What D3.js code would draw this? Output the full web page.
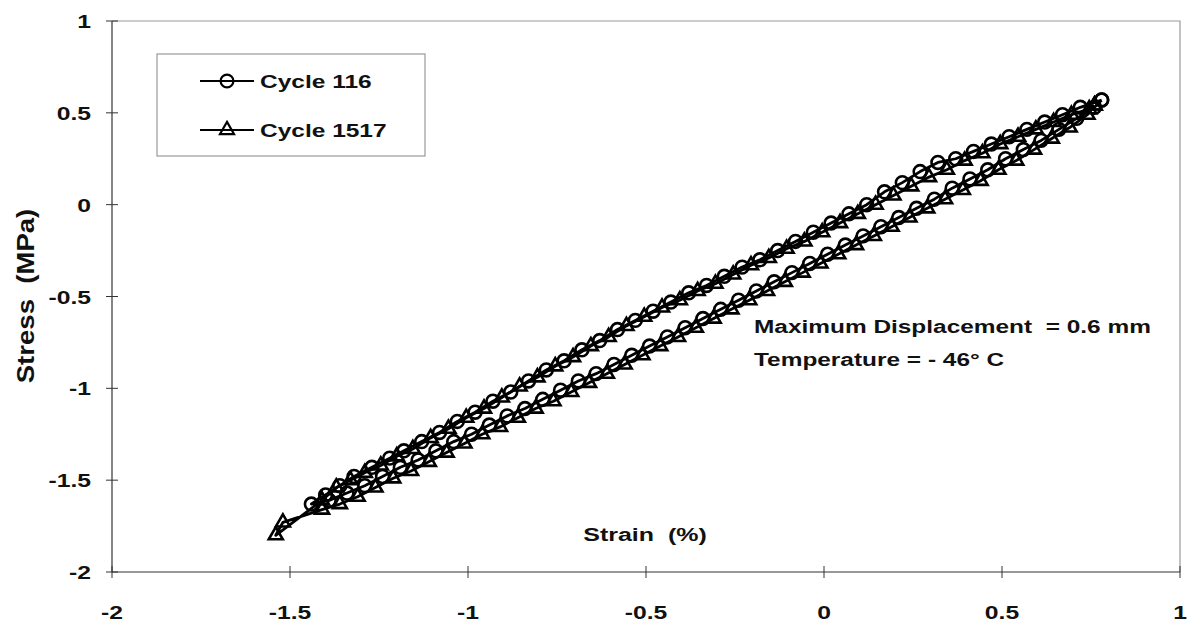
<!DOCTYPE html>
<html>
<head>
<meta charset="utf-8">
<script src="https://cdn.jsdelivr.net/npm/d3@7"></script>
<style>
  body { margin: 0; background: #fff; }
  text { font-family: "Liberation Sans", Arial, sans-serif; font-weight: bold; fill: #111; }
</style>
</head>
<body>
<svg id="chart" width="1192" height="623"></svg>
<script>
// ── Data (strain %, stress MPa) ──────────────────────────────────────────
const xTicks = [-2, -1.5, -1, -0.5, 0, 0.5, 1];
const yTicks = [1, 0.5, 0, -0.5, -1, -1.5, -2];

// Cycle 116: lower branch top -> bottom, then upper branch bottom -> top
const cycle116 = [
  [0.78, 0.57], [0.76, 0.53], [0.71, 0.47], [0.66, 0.41], [0.61, 0.35], [0.56, 0.30],
  [0.51, 0.25], [0.46, 0.19], [0.41, 0.14], [0.36, 0.09], [0.31, 0.03], [0.26, -0.02],
  [0.21, -0.07], [0.16, -0.12], [0.11, -0.17], [0.06, -0.22], [0.01, -0.27], [-0.04, -0.32],
  [-0.09, -0.37], [-0.14, -0.42], [-0.19, -0.47], [-0.24, -0.52], [-0.29, -0.57], [-0.34, -0.62],
  [-0.39, -0.67], [-0.44, -0.72], [-0.49, -0.77], [-0.54, -0.82], [-0.59, -0.87], [-0.64, -0.92],
  [-0.69, -0.96], [-0.74, -1.01], [-0.79, -1.06], [-0.84, -1.11], [-0.89, -1.15], [-0.94, -1.20],
  [-0.99, -1.25], [-1.04, -1.29], [-1.09, -1.34], [-1.14, -1.39], [-1.19, -1.43], [-1.24, -1.48],
  [-1.29, -1.53], [-1.34, -1.57], [-1.39, -1.61],
  [-1.44, -1.63], [-1.40, -1.58], [-1.36, -1.53], [-1.32, -1.48], [-1.27, -1.43], [-1.22, -1.38],
  [-1.18, -1.34], [-1.13, -1.29], [-1.08, -1.24], [-1.03, -1.18], [-0.98, -1.13], [-0.93, -1.07],
  [-0.88, -1.02], [-0.83, -0.96], [-0.78, -0.90], [-0.73, -0.85], [-0.68, -0.79], [-0.63, -0.74],
  [-0.58, -0.68], [-0.53, -0.63], [-0.48, -0.58], [-0.43, -0.53], [-0.38, -0.48], [-0.33, -0.44],
  [-0.28, -0.39], [-0.23, -0.34], [-0.18, -0.30], [-0.13, -0.25], [-0.08, -0.20], [-0.03, -0.15],
  [0.02, -0.10], [0.07, -0.05], [0.12, 0.00], [0.17, 0.07], [0.22, 0.12], [0.27, 0.18],
  [0.32, 0.23], [0.37, 0.25], [0.42, 0.29], [0.47, 0.33], [0.52, 0.37], [0.57, 0.41],
  [0.62, 0.45], [0.67, 0.49], [0.72, 0.53], [0.78, 0.57]
];

// Cycle 1517: lower branch top -> bottom (with the spur), then upper branch back up
const cycle1517 = [
  [0.76, 0.54], [0.74, 0.49], [0.69, 0.42], [0.64, 0.36], [0.59, 0.30], [0.54, 0.24],
  [0.49, 0.19], [0.44, 0.13], [0.39, 0.08], [0.34, 0.03], [0.29, -0.02], [0.24, -0.07],
  [0.19, -0.12], [0.14, -0.17], [0.09, -0.22], [0.04, -0.27], [-0.01, -0.32], [-0.06, -0.37],
  [-0.11, -0.42], [-0.16, -0.47], [-0.21, -0.52], [-0.26, -0.57], [-0.31, -0.62], [-0.36, -0.67],
  [-0.41, -0.72], [-0.46, -0.77], [-0.51, -0.82], [-0.56, -0.87], [-0.61, -0.92], [-0.66, -0.97],
  [-0.71, -1.02], [-0.76, -1.07], [-0.81, -1.11], [-0.86, -1.16], [-0.91, -1.21], [-0.96, -1.25],
  [-1.01, -1.30], [-1.06, -1.35], [-1.11, -1.40], [-1.16, -1.45], [-1.21, -1.49], [-1.26, -1.54],
  [-1.31, -1.59], [-1.36, -1.63], [-1.41, -1.66], [-1.52, -1.73], [-1.54, -1.80],
  [-1.41, -1.61], [-1.37, -1.54], [-1.33, -1.50], [-1.29, -1.46], [-1.245, -1.42], [-1.20, -1.37],
  [-1.155, -1.33], [-1.105, -1.27], [-1.055, -1.22], [-1.005, -1.16], [-0.955, -1.11], [-0.905, -1.05],
  [-0.855, -0.99], [-0.805, -0.94], [-0.755, -0.88], [-0.705, -0.83], [-0.655, -0.77], [-0.605, -0.72],
  [-0.555, -0.66], [-0.505, -0.61], [-0.455, -0.56], [-0.405, -0.52], [-0.355, -0.47], [-0.305, -0.43],
  [-0.255, -0.38], [-0.205, -0.33], [-0.155, -0.29], [-0.105, -0.24], [-0.055, -0.20], [-0.005, -0.15],
  [0.045, -0.10], [0.095, -0.05], [0.145, 0.00], [0.195, 0.05], [0.245, 0.10], [0.295, 0.15],
  [0.345, 0.19], [0.395, 0.24], [0.445, 0.28], [0.495, 0.33], [0.545, 0.37], [0.595, 0.41],
  [0.645, 0.45], [0.695, 0.49], [0.745, 0.52], [0.76, 0.54]
];

const seriesNames = ['Cycle 116', 'Cycle 1517'];

// ── Layout ────────────────────────────────────────────────────────────────
const svg = d3.select('#chart');
const X0 = 112, X1 = 1180, Y0 = 21, Y1 = 572;
const SX = 1.3;   // the scanned figure is stretched sideways; text follows it

const x = d3.scaleLinear().domain([-2, 1]).range([X0, X1]);
const y = d3.scaleLinear().domain([-2, 1]).range([Y1, Y0]);

function label(parent, px, py, str, size, anchor, sx = SX) {
  return parent.append('text')
    .attr('transform', `translate(${px},${py}) scale(${sx},1)`)
    .attr('text-anchor', anchor || 'start')
    .attr('font-size', size)
    .attr('xml:space', 'preserve')
    .text(str);
}

// plot area frame (top and right edges are light grey)
svg.append('path')
  .attr('d', `M${X0},${Y0} H${X1} V${Y1}`)
  .attr('fill', 'none').attr('stroke', '#999').attr('stroke-width', 1.2);

// axes
const g = svg.append('g');
g.append('line').attr('x1', X0).attr('x2', X0).attr('y1', Y0).attr('y2', Y1)
  .attr('stroke', '#333').attr('stroke-width', 1.2);
g.append('line').attr('x1', X0).attr('x2', X1).attr('y1', Y1).attr('y2', Y1)
  .attr('stroke', '#333').attr('stroke-width', 1.2);

// cross ticks + labels
yTicks.forEach(t => {
  g.append('line').attr('x1', X0 - 6).attr('x2', X0 + 6).attr('y1', y(t)).attr('y2', y(t))
    .attr('stroke', '#333').attr('stroke-width', 1);
  label(g, X0 - 21, y(t) + 7, t, 19, 'end');
});
xTicks.forEach(t => {
  g.append('line').attr('x1', x(t)).attr('x2', x(t)).attr('y1', Y1 - 6).attr('y2', Y1 + 6)
    .attr('stroke', '#333').attr('stroke-width', 1);
  label(g, x(t), 619, t, 19, 'middle');
});

// axis titles
svg.append('text')
  .attr('transform', `translate(34,296) scale(${SX},1) rotate(-90) scale(1.45,1)`)
  .attr('text-anchor', 'middle').attr('font-size', 19)
  .attr('xml:space', 'preserve').text('Stress  (MPa)');
label(svg, 645, 541, 'Strain  (%)', 18.5, 'middle', 1.35);

// annotation
label(svg, 754, 333, 'Maximum Displacement  = 0.6 mm', 18.5, 'start', 1.32);
label(svg, 754, 366, 'Temperature = - 46° C', 18.5, 'start', 1.32);

// ── Series ───────────────────────────────────────────────────────────────
const line = d3.line().x(d => x(d[0])).y(d => y(d[1]));
const circleSym = d3.symbol().type(d3.symbolCircle).size(130);
const triSym = d3.symbol().type(d3.symbolTriangle).size(85);

function drawSeries(data, sym) {
  const s = svg.append('g');
  s.append('path').attr('d', line(data))
    .attr('fill', 'none').attr('stroke', '#000').attr('stroke-width', 2.8)
    .attr('stroke-linejoin', 'round');
  s.selectAll('path.m').data(data).join('path')
    .attr('class', 'm')
    .attr('transform', d => `translate(${x(d[0])},${y(d[1])})`)
    .attr('d', sym)
    .attr('fill', 'none').attr('stroke', '#000').attr('stroke-width', 2.6);
}
drawSeries(cycle1517, triSym);
drawSeries(cycle116, circleSym);

// ── Legend ───────────────────────────────────────────────────────────────
const lg = svg.append('g');
lg.append('rect').attr('x', 157).attr('y', 54).attr('width', 268).attr('height', 102)
  .attr('fill', '#fff').attr('stroke', '#999').attr('stroke-width', 1.2);
[circleSym, triSym].forEach((sym, i) => {
  const ly = 81 + i * 49;
  lg.append('line').attr('x1', 200).attr('x2', 254).attr('y1', ly).attr('y2', ly)
    .attr('stroke', '#000').attr('stroke-width', 2.2);
  lg.append('path').attr('transform', `translate(227,${ly})`).attr('d', sym)
    .attr('fill', 'none').attr('stroke', '#000').attr('stroke-width', 2.2);
  label(lg, 260, ly + 7, seriesNames[i], 19, 'start', 1.29);
});
</script>
</body>
</html>
